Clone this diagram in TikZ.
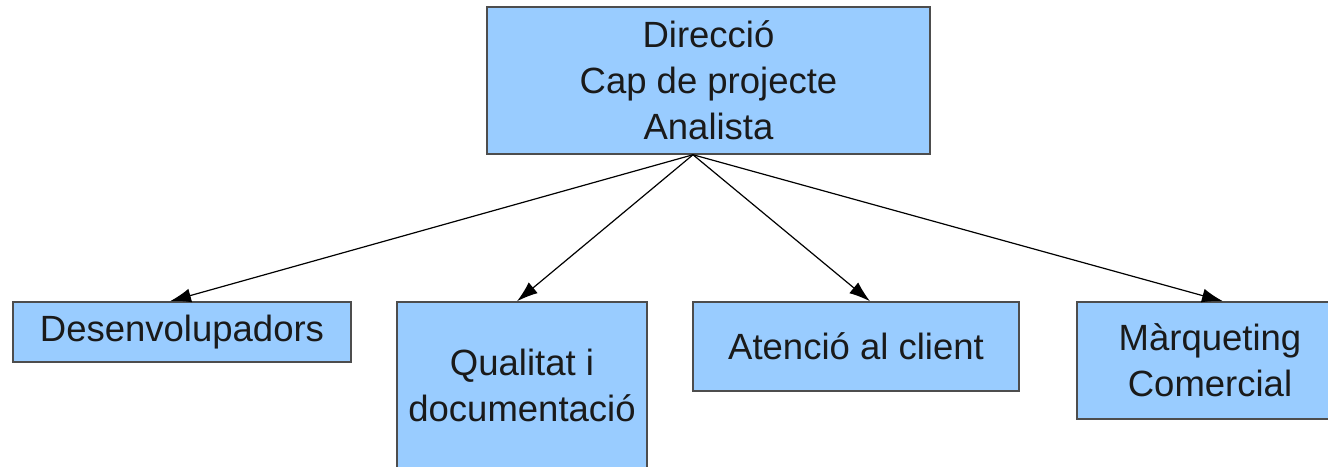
\documentclass[tikz,border=0pt]{standalone}
\usepackage{fontspec}
\setmainfont{Liberation Sans}
\usetikzlibrary{arrows.meta,positioning}
\definecolor{boxfill}{HTML}{99CCFF}
\definecolor{boxline}{HTML}{4D4D4D}
\definecolor{boxtext}{HTML}{1A1A1A}

\begin{document}
\begin{tikzpicture}[x=1pt,y=-1pt,
          box/.style={draw=boxline,fill=boxfill,text=boxtext,line width=1.5pt,align=center,inner sep=0pt,
            font=\fontsize{36.5}{46}\selectfont},
          every edge/.style={draw,-{Latex[length=21pt,width=14pt]},line width=1.2pt}
        ]
        \useasboundingbox (0,0) rectangle (1328,466);

        %top box
        \node[box,minimum width=443pt,minimum height=147pt] (dir) at (708.5,80.5)
          {Direcció\\Cap de projecte\\Analista};

        %boxes below
        \node[box,minimum width=338pt,minimum height=60pt] (dev) at (182,332) {Desenvolupadors};
        \node[box,minimum width=250pt,minimum height=166pt] (qual) at (522,385) {Qualitat i\\documentació};
        \node[box,minimum width=326pt,minimum height=89pt] (aten) at (856,346.5) {Atenció al client};
        \node[box,minimum width=266pt,minimum height=117pt] (marq) at (1210,360.5) {Màrqueting\\Comercial};

        %arrows
        \coordinate (src) at ([xshift=-15.5pt]dir.south);
        \path
        (src) edge ([xshift=-12pt]dev.north)
        (src) edge ([xshift=-5pt]qual.north)
        (src) edge ([xshift=14pt]aten.north)
        (src) edge ([xshift=13pt]marq.north)
        ;
    \end{tikzpicture}
\end{document}
